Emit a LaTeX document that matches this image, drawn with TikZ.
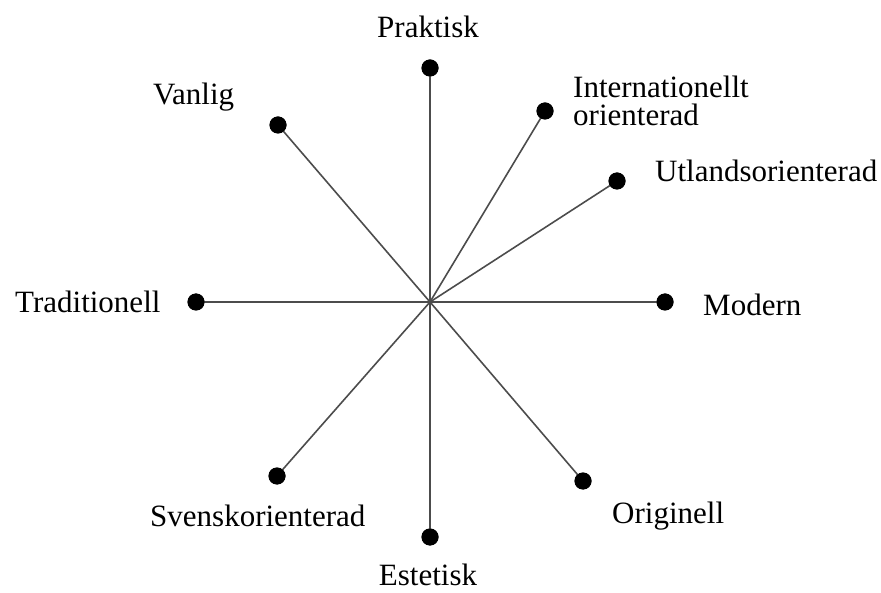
\documentclass[tikz,border=0pt]{standalone}
\usepackage{fontspec}
\setmainfont{Liberation Serif}
\begin{document}
\begin{tikzpicture}[x=1pt,y=-1pt,
  dot/.style={circle,fill=black,inner sep=0pt,minimum size=17pt},
  lbl/.style={font=\fontsize{31}{28}\selectfont,inner sep=0pt,align=left},
  spoke/.style={draw=black!70,line width=1.6pt}]
\useasboundingbox (0,0) rectangle (881,593);
\coordinate (c) at (430,302);
\node[dot] (p) at (430,68) {};
\node[dot] (i) at (545,111) {};
\node[dot] (u) at (617,181) {};
\node[dot] (m) at (665,302) {};
\node[dot] (o) at (583,481) {};
\node[dot] (e) at (430,537) {};
\node[dot] (s) at (277,476) {};
\node[dot] (t) at (196,302) {};
\node[dot] (v) at (278,125) {};
\foreach \n in {p,i,u,m,o,e,s,t,v} \draw[spoke] (c) -- (\n.center);
\foreach \n in {p,i,u,m,o,e,s,t,v} \fill (\n) circle (8.5pt);
\node[lbl] (lp) at (428,27) {Praktisk};
\node[lbl,anchor=west] (li) at (573,101) {Internationellt\\orienterad};
\node[lbl,anchor=west] (lu) at (655,171) {Utlandsorienterad};
\node[lbl,anchor=west] (lm) at (703,305) {Modern};
\node[lbl,anchor=west] (lo) at (612,516) {Originell};
\node[lbl] (le) at (428,575) {Estetisk};
\node[lbl,anchor=west] (ls) at (150,516) {Svenskorienterad};
\node[lbl,anchor=west] (lt) at (15,302) {Traditionell};
\node[lbl,anchor=west] (lv) at (153,97) {Vanlig};
\end{tikzpicture}
\end{document}
